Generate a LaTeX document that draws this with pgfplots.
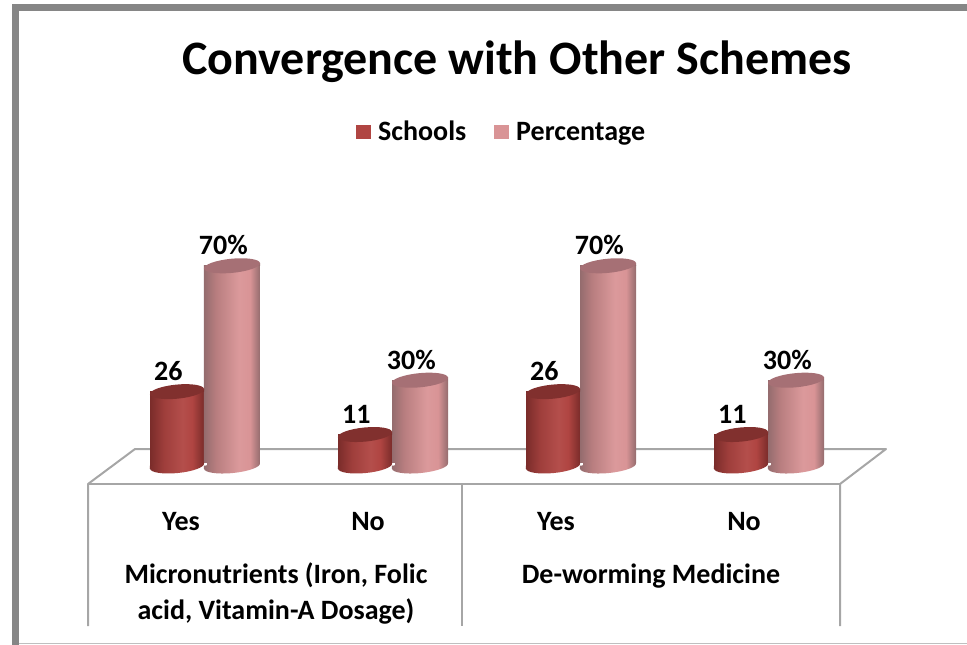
\documentclass[border=0pt]{standalone}
\usepackage{fontspec}
\setmainfont{Carlito}
\usepackage{pgfplots}
\pgfplotsset{compat=1.18}
\usepackage{xcolor}
\definecolor{framegray}{HTML}{868686}
\definecolor{linegray}{HTML}{A6A6A6}
\definecolor{schoolsmain}{HTML}{B04542}
\definecolor{pctmain}{HTML}{D99496}
\definecolor{schoolscap}{HTML}{81302E}
\definecolor{pctcap}{HTML}{A67075}
\definecolor{schoolsedge}{HTML}{7A2C2A}
\definecolor{pctedge}{HTML}{946C6E}

% stops sit between 25bp and 75bp, which is the part that covers the path
\pgfdeclarehorizontalshading{schoolsside}{100bp}{color(0bp)=(schoolsedge); color(25bp)=(schoolsedge); color(38bp)=(schoolsmain!90!black); color(55bp)=(schoolsmain!95!white); color(64bp)=(schoolsmain); color(75bp)=(schoolsedge); color(100bp)=(schoolsedge)}
\pgfdeclarehorizontalshading{pctside}{100bp}{color(0bp)=(pctedge); color(25bp)=(pctedge); color(36bp)=(pctmain!85!black); color(56bp)=(pctmain!95!white); color(66bp)=(pctmain); color(75bp)=(pctedge); color(100bp)=(pctedge)}

% plain pgf in the marks: a tikz (0,0) in an axis would mean axis cs
\newcommand{\capmark}[3]{%
  \pgfsetfillcolor{#3}%
  \pgfpathmoveto{\pgfqpoint{#1}{0pt}}\pgfpathlineto{\pgfqpoint{#1}{2.1pt}}\pgfpathlineto{\pgfqpoint{16pt}{0pt}}\pgfpathclose
  \pgfusepathqfill
  \pgfsetfillcolor{#2}%
  \pgftransformrotate{5.5}%
  \pgfpathellipse{\pgfpointorigin}{\pgfqpoint{#1}{0pt}}{\pgfqpoint{0pt}{5.3pt}}%
  \pgfusepathqfill}
% drawn after the bar: white hides its square right corner, the left one gets a sliver
\newcommand{\basemark}[3]{%
  \pgfsetfillcolor{white}%
  \pgfpathrectangle{\pgfqpoint{10pt}{-0.6pt}}{\pgfqpoint{12.5pt}{3pt}}%
  \pgfusepathqfill
  \pgfsetfillcolor{#3}%
  \pgfpathmoveto{\pgfqpoint{-#1}{0.2pt}}\pgfpathlineto{\pgfqpoint{-#1}{-2.1pt}}\pgfpathlineto{\pgfqpoint{-15pt}{0.2pt}}\pgfpathclose
  \pgfusepathqfill
  \pgftransformrotate{5.5}%
  \pgfpathellipse{\pgfpointorigin}{\pgfqpoint{#1}{0pt}}{\pgfqpoint{0pt}{5.3pt}}%
  \pgfshadepath{#2}{0}%
  \pgfusepath{discard}}
\pgfdeclareplotmark{schoolstop}{\capmark{20.4pt}{schoolscap}{schoolsedge}}
\pgfdeclareplotmark{pcttop}{\capmark{21.1pt}{pctcap}{pctedge}}
\pgfdeclareplotmark{schoolsbase}{\basemark{20.4pt}{schoolsside}{schoolsedge}}
\pgfdeclareplotmark{pctbase}{\basemark{21.1pt}{pctside}{pctedge}}

\pgfplotsset{
  schoolsbar/.style={ybar, bar width=40.5pt, bar shift=0pt, draw=none, fill=none, shade, shading=schoolsside,
    mark=schoolstop, nodes near coords},
  pctbar/.style={ybar, bar width=42pt, bar shift=0pt, draw=none, fill=none, shade, shading=pctside,
    mark=pcttop, nodes near coords={\pgfmathprintnumber{\pgfplotspointmeta}\%}},
}
\newcommand{\swatch}[1]{%
  \pgfsetfillcolor{#1}%
  \pgfpathrectangle{\pgfqpoint{0pt}{-5.6pt}}{\pgfqpoint{11.2pt}{11.2pt}}%
  \pgfusepathqfill}

\begin{document}
\begin{tikzpicture}[x=0.75pt,y=-0.75pt]
  \path[use as bounding box] (0,0) rectangle (967,645);
  % window frame
  \fill[framegray] (12,4) rectangle (19,645);
  \fill[framegray] (12,4) rectangle (967,11);
  \draw[black!25,line width=0.8pt] (19,643.5) -- (967,643.5);
  % floor and the table under it
  \draw[linegray,line width=1.5pt,line join=round] (88,626) -- (88,484) -- (135,449) -- (886,449) -- (840,484) -- (840,626);
  \draw[linegray,line width=1.5pt] (88,484) -- (840,484);
  \draw[linegray,line width=1.5pt] (462,484) -- (462,626);
  % title and category names
  \node[font=\bfseries\fontsize{36pt}{40pt}\selectfont] at (517,62) {Convergence with Other Schemes};
  \begin{scope}[every node/.style={font=\bfseries\fontsize{21pt}{24pt}\selectfont,inner sep=0pt}]
    \node[anchor=base] at (181,530) {Yes};
    \node[anchor=base] at (368,530) {No};
    \node[anchor=base] at (556,530) {Yes};
    \node[anchor=base] at (744,530) {No};
    \node[anchor=base] at (276,583) {Micronutrients (Iron, Folic};
    \node[anchor=base] at (276,619) {acid, Vitamin-A Dosage)};
    \node[anchor=base] at (651,583) {De-worming Medicine};
  \end{scope}
  \begin{axis}[
    at={(0,0)}, anchor=north west,
    scale only axis,
    width=725.25pt, height=483.75pt,
    xmin=-1.0851, xmax=4.0585,
    ymin=-62.59, ymax=162.94,
    hide axis,
    clip=false,
    /pgf/number format/assume math mode=true,
    every node near coord/.style={font=\bfseries\fontsize{21pt}{24pt}\selectfont,inner sep=0pt,anchor=south,xshift=-6.5pt,yshift=7.8pt},
    legend columns=2,
    legend style={
      at={(rel axis cs:0.5192,0.7953)}, anchor=center,
      draw=none, fill=none,
      font=\bfseries\fontsize{21pt}{24pt}\selectfont,
      /tikz/every even column/.append style={column sep=19pt},
      /tikz/every odd column/.append style={column sep=3.25pt},
    },
    legend cell align=left,
  ]
    % Schools
    \addplot[schoolsbar, legend image code/.code={\swatch{schoolsmain}}] coordinates {(-0.1436,26)};
    \addlegendentry{Schools}
    \addplot[schoolsbar, forget plot] coordinates {(0.8564,11)};
    \addplot[schoolsbar, forget plot] coordinates {(1.8564,26)};
    \addplot[schoolsbar, forget plot] coordinates {(2.8564,11)};
    \addplot[only marks, mark=schoolsbase, forget plot] coordinates {
      (-0.1436,0) (0.8564,0) (1.8564,0) (2.8564,0)
    };
    % Percentage
    \addplot[pctbar, legend image code/.code={\swatch{pctmain}}] coordinates {(0.1489,70)};
    \addlegendentry{Percentage}
    \addplot[pctbar, forget plot] coordinates {(1.1489,30)};
    \addplot[pctbar, forget plot] coordinates {(2.1489,70)};
    \addplot[pctbar, forget plot] coordinates {(3.1489,30)};
    \addplot[only marks, mark=pctbase, forget plot] coordinates {
      (0.1489,0) (1.1489,0) (2.1489,0) (3.1489,0)
    };
  \end{axis}
\end{tikzpicture}
\end{document}
